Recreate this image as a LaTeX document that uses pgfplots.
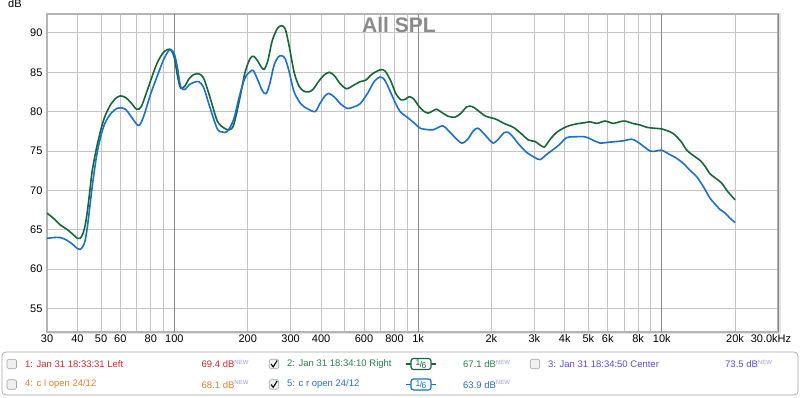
\documentclass[border=0pt]{standalone}
\usepackage{pgfplots}
\pgfplotsset{compat=1.18}
\usepackage{fontspec}
\setmainfont{Liberation Sans}
\definecolor{rgreen}{HTML}{17663A}
\definecolor{rblue}{HTML}{1F6FC9}
\definecolor{lgreen}{HTML}{2E7D4F}
\definecolor{lblue}{HTML}{2A6FC0}
\definecolor{lred}{HTML}{C0302E}
\definecolor{lorange}{HTML}{E0802E}
\definecolor{lpurple}{HTML}{5A4FCF}
\definecolor{newc}{HTML}{9A9AF0}
\definecolor{gridc}{HTML}{C4C4C4}
\definecolor{decc}{HTML}{888888}
\definecolor{framec}{HTML}{B4B4B4}
\newcommand{\NEW}{\textsuperscript{\color{newc}\fontsize{6}{6}\selectfont NEW}}
\newcommand{\cbox}[2]{\node[draw=gray!70, fill=gray!12, rounded corners=1.5pt, minimum size=9.5pt, inner sep=0pt, line width=0.6pt] at (#1,#2) {};}
\newcommand{\cboxc}[2]{\node[draw=gray!70, fill=gray!12, rounded corners=1.5pt, minimum size=9.5pt, inner sep=0pt, line width=0.6pt] at (#1,#2) {}; \draw[black, line width=1.1pt] (#1-3,#2) -- (#1-0.8,#2-2.8) -- (#1+3.2,#2+3.5);}
\newcommand{\oct}[3]{\draw[#3, line width=1.2pt] (406,#2) -- (436,#2); \node[draw=#3, fill=white, rounded corners=2.5pt, line width=1.2pt, minimum width=20pt, minimum height=11pt, inner sep=0pt] at (421,#2) {\fontsize{8.5}{8.5}\selectfont\color{#3}\raisebox{1.5pt}{1}\kern-0.6pt/\kern-0.6pt\raisebox{-1.2pt}{6}};}

\pgfplotstableread{
f db
30 67.1
32 66.4
34 65.6
36 65.1
38 64.5
40 63.9
41 63.9
42 64.4
43 65.5
44 67.5
45 70.0
46 72.5
48 75.5
50 77.8
52 79.5
55 81.0
58 81.8
60 82.0
63 81.8
66 81.2
70 80.3
73 80.6
76 82.0
80 84.0
85 86.2
90 87.5
94 87.9
97 87.8
100 86.8
103 84.5
106 83.0
110 83.2
115 84.2
120 84.7
126 84.8
132 84.2
140 81.8
150 78.8
160 77.9
168 77.7
175 78.3
185 81.5
195 85.0
205 86.8
212 87.0
220 86.4
228 85.6
234 85.4
242 86.5
252 89.0
265 90.6
276 90.9
285 90.5
295 88.5
310 85.0
325 83.2
340 82.6
355 82.5
370 82.8
390 83.8
410 84.6
432 85.0
455 84.5
480 83.5
510 82.9
540 83.3
578 83.8
610 84.0
650 84.8
698 85.3
730 85.2
770 84.0
810 82.3
850 81.5
890 81.6
920 81.9
960 81.6
1000 80.8
1050 80.1
1100 79.8
1150 80.1
1193 80.3
1250 79.9
1330 79.4
1419 79.3
1500 79.8
1580 80.6
1633 80.7
1700 80.5
1800 79.9
1900 79.4
2004 79.2
2100 79.0
2250 78.5
2461 78.0
2650 77.2
2837 76.4
3022 76.2
3150 75.8
3297 75.5
3450 76.3
3600 77.0
3800 77.6
4074 78.1
4400 78.4
4843 78.6
5100 78.7
5409 78.5
5850 78.8
6328 78.5
6700 78.7
7067 78.8
7600 78.5
8142 78.3
8700 78.0
9241 77.9
10000 77.8
10480 77.6
11163 77.2
12000 76.2
12670 75.1
13500 74.4
14370 73.8
15100 73.0
15780 72.1
16700 71.5
17630 70.9
18700 69.8
20000 68.8
}\greentab

\pgfplotstableread{
f db
30 63.9
32 64.0
34 64.0
36 63.7
38 63.2
40 62.6
41 62.5
42 62.8
43 63.6
44 65.5
45 68.0
46 70.5
48 74.5
50 77.0
52 78.6
55 79.8
58 80.4
60 80.5
63 80.3
66 79.5
70 78.4
72 78.3
75 79.5
80 82.3
85 84.5
90 86.5
94 87.6
96.6 87.9
100 87.3
103 85.5
106 83.2
110 82.8
115 83.4
120 83.7
126 83.8
132 83.0
140 80.5
150 77.8
158 77.4
165 77.5
175 79.0
185 82.0
195 84.3
205 85.1
211 85.2
220 84.0
230 82.6
238 82.3
246 83.5
256 85.8
266 86.9
276 87.1
285 86.7
295 85.2
310 82.5
330 81.0
350 80.4
378 80.0
395 81.0
415 82.0
432 82.3
455 81.8
480 81.0
513 80.4
545 80.6
578 81.0
620 82.3
660 83.8
698 84.4
730 84.0
770 82.5
810 81.0
844 80.0
900 79.3
960 78.6
1019 77.9
1100 77.7
1156 77.7
1262 78.2
1330 77.6
1420 76.7
1511 76.0
1600 76.5
1680 77.5
1757 77.9
1850 77.3
1950 76.5
2037 76.0
2150 76.6
2249 77.3
2349 77.35
2450 76.8
2600 75.8
2795 74.8
3000 74.2
3168 73.9
3350 74.5
3593 75.2
3800 75.8
4074 76.7
4400 76.8
4843 76.8
5200 76.4
5582 76.0
6000 76.1
6531 76.2
7000 76.3
7527 76.5
8000 76.1
8955 75.0
9500 75.0
10000 75.1
10700 74.6
11530 74.05
12280 73.4
13000 72.6
13930 71.7
14800 70.5
15780 69.0
16500 68.3
17300 67.6
18210 67.1
19000 66.5
20000 65.9
}\bluetab

\begin{document}
\begin{tikzpicture}[x=1pt,y=1pt]
\fill[white] (0,0) rectangle (800,397);
% frame shadow
\fill[gray!22] (49,63) rectangle (781,384);
\begin{axis}[
  at={(47pt,65pt)}, anchor=south west,
  scale only axis, width=731pt, height=318pt,
  xmode=log, xmin=30, xmax=30000, ymin=52, ymax=92.4,
  axis background/.style={fill=white},
  axis line style={framec, line width=1.8pt},
  xtick={30,40,50,60,70,80,90,100,200,300,400,500,600,700,800,900,1000,2000,3000,4000,5000,6000,7000,8000,9000,10000,20000},
  xticklabels={30,40,50,60,,80,,100,200,300,400,,600,,800,,1k,2k,3k,4k,5k,6k,,8k,,10k,20k},
  ytick={55,60,65,70,75,80,85,90},
  extra x ticks={100,1000,10000,30000},
  extra x tick labels={,,,30.0kHz},
  extra x tick style={grid style={decc, line width=0.8pt}, xticklabel style={xshift=-7pt}},
  xmajorgrids, ymajorgrids,
  grid style={gridc, line width=0.8pt},
  major tick length=0pt,
  tick style={draw=none},
  xticklabel style={font=\fontsize{11}{13}\selectfont, color=black, yshift=1pt},
  yticklabel style={font=\fontsize{11}{13}\selectfont, color=black, xshift=-1pt},
  /pgf/number format/assume math mode=true,
  log ticks with fixed point,
  clip=true,
]
\addplot[rgreen, line width=1.6pt, smooth, tension=0.5] table[x=f,y=db] {\greentab};
\addplot[rblue, line width=1.6pt, smooth, tension=0.5] table[x=f,y=db] {\bluetab};
\end{axis}
% title and unit label
\node[anchor=base, font=\fontsize{21}{24}\selectfont\bfseries] at (399,364) {\color[HTML]{8A8A8A}All SPL};
\node[anchor=base west, inner sep=0pt, font=\fontsize{11}{13}\selectfont] at (8,389) {dB};
% legend box
\draw[gray!70, line width=0.7pt, rounded corners=4pt, fill=white] (2,2) rectangle (798,45);
\begin{scope}[font=\fontsize{9.5}{11}\selectfont]
% row 1
\cbox{11.7}{33}
\node[anchor=west, inner sep=0pt, text=lred] at (25,33) {1: Jan 31 18:33:31 Left};
\node[anchor=west, inner sep=0pt, text=lred] at (201.5,33) {69.4 dB\NEW};
\cboxc{274}{33}
\node[anchor=west, inner sep=0pt, text=lgreen] at (287,33) {2: Jan 31 18:34:10 Right};
\oct{421}{33}{rgreen}
\node[anchor=west, inner sep=0pt, text=lgreen] at (463,33) {67.1 dB\NEW};
\cbox{535}{33}
\node[anchor=west, inner sep=0pt, text=lpurple] at (548,33) {3: Jan 31 18:34:50 Center};
\node[anchor=west, inner sep=0pt, text=lpurple] at (725,33) {73.5 dB\NEW};
% row 2
\cbox{11.7}{12.5}
\node[anchor=west, inner sep=0pt, text=lorange] at (25,12.5) {4: c l open 24/12};
\node[anchor=west, inner sep=0pt, text=lorange] at (201.5,12.5) {68.1 dB\NEW};
\cboxc{274}{12.5}
\node[anchor=west, inner sep=0pt, text=lblue] at (287,12.5) {5: c r open 24/12};
\oct{421}{12.5}{rblue}
\node[anchor=west, inner sep=0pt, text=lblue] at (463,12.5) {63.9 dB\NEW};
\end{scope}
\end{tikzpicture}
\end{document}
